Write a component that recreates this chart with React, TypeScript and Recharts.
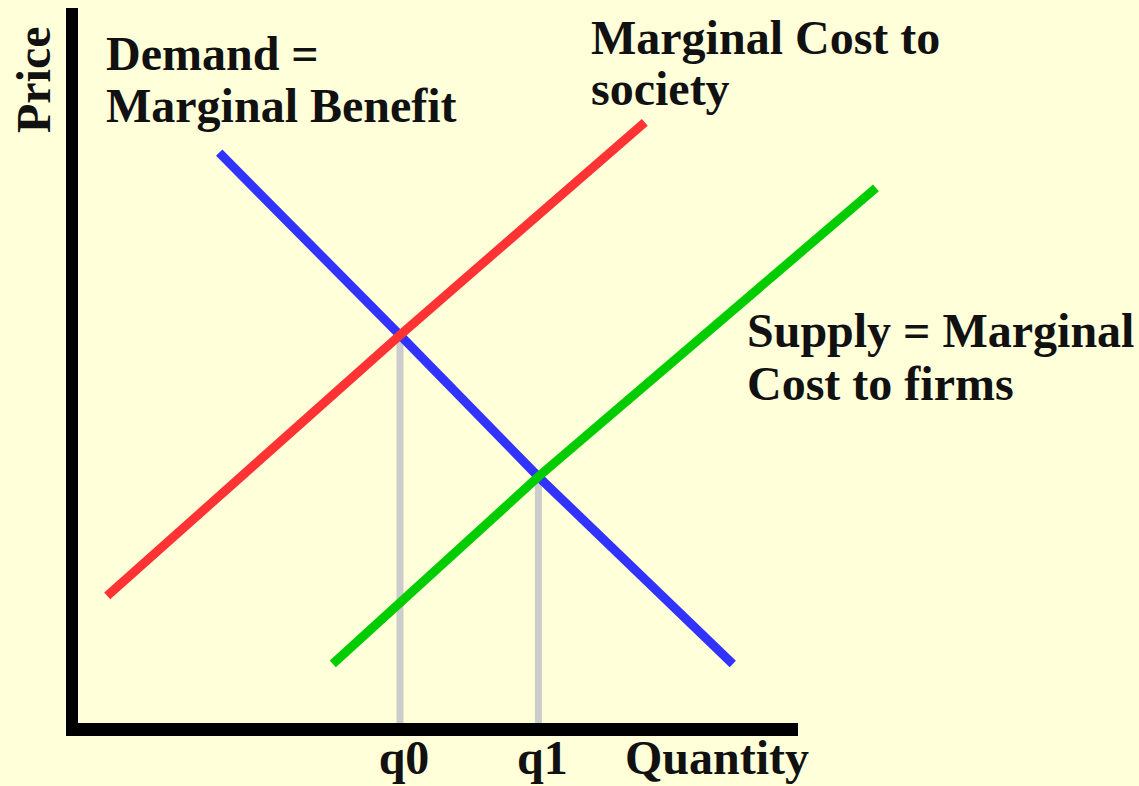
import React from 'react';
import { ComposedChart, Line, XAxis, YAxis, ReferenceLine } from 'recharts';

// quantity / price in abstract units
const demand = [
  { q: 1.84, p: 7.21 },
  { q: 4.1, p: 4.93 },
  { q: 5.83, p: 3.16 },
  { q: 8.26, p: 0.82 },
];
const mcSociety = [
  { q: 0.44, p: 1.67 },
  { q: 4.1, p: 4.93 },
  { q: 7.16, p: 7.59 },
];
const supply = [
  { q: 3.26, p: 0.82 },
  { q: 5.83, p: 3.16 },
  { q: 10.05, p: 6.77 },
];

const qTicks = [4.1, 5.83];
const qTickLabels = ['q0', 'q1'];
const dropQ0 = [{ q: 4.1, p: 0 }, { q: 4.1, p: 4.93 }];
const dropQ1 = [{ q: 5.83, p: 0 }, { q: 5.83, p: 3.16 }];

// extent of the drawn axes
const xAxisEnds = [-0.075, 9.075];
const yAxisEnds = [-0.08, 9.02];

const FONT = '"Liberation Serif", "Times New Roman", serif';
const BG = '#FFFFDA';

const textStyle: React.CSSProperties = { fontFamily: FONT, fontSize: 48, fontWeight: 700, fill: '#111' };

const Annotations = () => (
  <svg width={1139} height={786} style={{ position: 'absolute', left: 0, top: 0, pointerEvents: 'none' }}>
    <text transform="translate(50,133) rotate(-90)" style={textStyle}>Price</text>
    <text x={106} y={70} style={textStyle}>Demand =</text>
    <text x={106} y={122} style={textStyle}>Marginal Benefit</text>
    <text x={591} y={54} style={textStyle}>Marginal Cost to</text>
    <text x={591} y={105} style={textStyle}>society</text>
    <text x={747} y={347} style={textStyle}>Supply = Marginal</text>
    <text x={747} y={400} style={textStyle}>Cost to firms</text>
    <text x={625} y={774} style={textStyle}>Quantity</text>
  </svg>
);

export default function App() {
  return (
    <div style={{ position: 'absolute', left: 0, top: 0, width: 1139, height: 786, background: BG, overflow: 'hidden' }}>
      <ComposedChart width={1139} height={786} margin={{ top: 9.5, right: 27, bottom: 0.5, left: 72 }}>
        <XAxis
          type="number"
          dataKey="q"
          domain={[0, 13]}
          ticks={qTicks}
          tickFormatter={(v: number) => qTickLabels[qTicks.indexOf(v)] ?? ''}
          axisLine={false}
          tickLine={false}
          tickMargin={4}
          height={56}
          interval={0}
          tick={{ fill: '#111', fontSize: 48, fontFamily: FONT, fontWeight: 700, dx: 4 }}
          allowDataOverflow
        />
        <YAxis type="number" dataKey="p" domain={[0, 9]} hide allowDataOverflow />

        <Line data={dropQ0} dataKey="p" stroke="#CCCCCC" strokeWidth={7} dot={false} activeDot={false} isAnimationActive={false} />
        <Line data={dropQ1} dataKey="p" stroke="#CCCCCC" strokeWidth={7} dot={false} activeDot={false} isAnimationActive={false} />

        <Line data={demand} dataKey="p" stroke="#3333FF" strokeWidth={9} dot={false} activeDot={false} isAnimationActive={false} />
        <Line data={mcSociety} dataKey="p" stroke="#FF3333" strokeWidth={9} dot={false} activeDot={false} isAnimationActive={false} />
        <Line data={supply} dataKey="p" stroke="#00CC00" strokeWidth={9} dot={false} activeDot={false} isAnimationActive={false} />

        <ReferenceLine
          segment={[{ x: xAxisEnds[0], y: 0 }, { x: xAxisEnds[1], y: 0 }]}
          stroke="#000"
          strokeWidth={13}
          ifOverflow="visible"
        />
        <ReferenceLine
          segment={[{ x: 0, y: yAxisEnds[0] }, { x: 0, y: yAxisEnds[1] }]}
          stroke="#000"
          strokeWidth={12}
          ifOverflow="visible"
        />
      </ComposedChart>
      <Annotations />
    </div>
  );
}
